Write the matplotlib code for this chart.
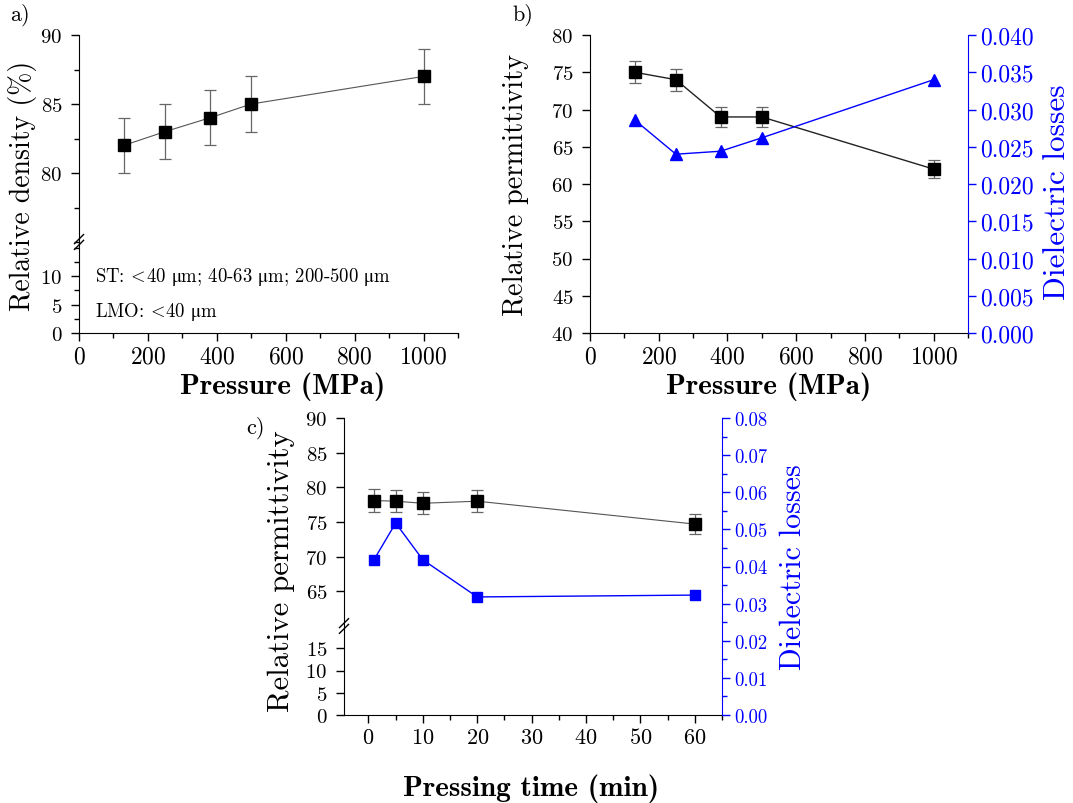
import matplotlib
matplotlib.use("Agg")
import matplotlib.pyplot as plt
from matplotlib.ticker import MultipleLocator, FormatStrFormatter

plt.rcParams['font.family'] = 'cmr10'
plt.rcParams['mathtext.fontset'] = 'cm'
plt.rcParams['axes.formatter.use_mathtext'] = True
plt.rcParams['xtick.direction'] = 'out'
plt.rcParams['ytick.direction'] = 'out'
plt.rcParams['xtick.labelsize'] = 17
plt.rcParams['ytick.labelsize'] = 15

BLUE = '#0000ff'
W, H = 1073, 804

# a) relative density vs pressure
press = [130, 250, 380, 500, 1000]
density = [82, 83, 84, 85, 87]
density_err = [2, 2, 2, 2, 2]

# b) permittivity / losses vs pressure
perm_b = [75, 74, 69, 69, 62]
perm_b_err = [1.5, 1.5, 1.4, 1.3, 1.2]
loss_b = [0.0286, 0.0240, 0.0244, 0.0262, 0.0340]

# c) permittivity / losses vs pressing time
ptime = [1, 5, 10, 20, 60]
perm_c = [78.1, 78.0, 77.7, 78.0, 74.7]
perm_c_err = [1.6, 1.6, 1.6, 1.6, 1.5]
loss_c = [0.0418, 0.0517, 0.0418, 0.0318, 0.0323]

xlab = dict(family='cmb10', fontsize=21, ha='center', va='center')
ylab = dict(family='cmr10', ha='center', va='center')
um = r'$\mathrm{μ}$m'


def rect(x0, x1, ytop, ybot):
    return [x0 / W, 1 - ybot / H, (x1 - x0) / W, (ybot - ytop) / H]


def ftext(x, y, s, rot=0, **kw):
    fig.text(x / W, 1 - y / H, s, rotation=rot, **kw)


def style(ax):
    ax.spines['top'].set_visible(False)
    ax.spines['right'].set_visible(False)
    ax.tick_params(which='major', length=6, width=1, pad=3)
    ax.tick_params(axis='y', which='major', pad=6)
    ax.tick_params(which='minor', length=3.5, width=1)


def brk(ax_lo):
    kw = dict(color='k', lw=1, clip_on=False)
    for dy in (-0.032, 0.032):
        ax_lo.plot([-0.012, 0.012], [1 + dy - 0.05, 1 + dy + 0.05],
                   transform=ax_lo.transAxes, **kw)


def errplot(ax, x, y, e, lw=0.8, lc='#333333'):
    ax.errorbar(x, y, yerr=e, fmt='none', ecolor='#666666', elinewidth=0.9,
                capsize=4, capthick=0.9, zorder=2)
    ax.plot(x, y, '-', color=lc, lw=lw, zorder=3)
    ax.plot(x, y, 's', color='k', ms=8, zorder=4)


fig = plt.figure(figsize=(W / 100, H / 100), dpi=100)

# ---- panel a ----
a_up = fig.add_axes(rect(79, 458, 36, 243))
a_lo = fig.add_axes(rect(79, 458, 243, 334))
for ax in (a_up, a_lo):
    style(ax)
    ax.set_xlim(0, 1100)
    errplot(ax, press, density, density_err, lw=0.8, lc='#555555')
a_up.set_ylim(75, 90)
a_up.spines['bottom'].set_visible(False)
a_up.tick_params(axis='x', which='both', bottom=False, labelbottom=False)
a_up.yaxis.set_minor_locator(MultipleLocator(2.5))
a_up.set_yticks([80, 85, 90])
a_lo.set_ylim(0, 16)
a_lo.set_yticks([0, 5, 10])
a_lo.yaxis.set_minor_locator(MultipleLocator(2.5))
a_lo.xaxis.set_major_locator(MultipleLocator(200))
a_lo.xaxis.set_minor_locator(MultipleLocator(100))
a_lo.text(46, 10, r'ST: $\!<\!$40 ' + um + '; 40-63 ' + um + '; 200-500 ' + um,
          fontsize=13.5, va='center')
a_lo.text(46, 3.9, r'LMO: $\!<\!$40 ' + um, fontsize=13.5, va='center')
brk(a_lo)
ftext(23, 186, 'Relative density (%)', rot=90, fontsize=20, **ylab)
ftext(283, 387, 'Pressure (MPa)', **xlab)
ftext(10, 15, 'a)', fontsize=16, va='center')

# ---- panel b ----
b = fig.add_axes(rect(590, 968, 36, 334))
style(b)
b.set_xlim(0, 1100)
b.set_ylim(40, 80)
b.yaxis.set_major_locator(MultipleLocator(5))
b.xaxis.set_major_locator(MultipleLocator(200))
b.xaxis.set_minor_locator(MultipleLocator(100))
errplot(b, press, perm_b, perm_b_err, lw=1.0, lc='#222222')
bt = b.twinx()
bt.set_ylim(0, 0.04)
bt.yaxis.set_major_locator(MultipleLocator(0.005))
bt.yaxis.set_major_formatter(FormatStrFormatter('%.3f'))
bt.plot(press, loss_b, '-^', color=BLUE, lw=1.0, ms=9)
for s in ('top', 'left', 'bottom'):
    bt.spines[s].set_visible(False)
bt.spines['right'].set_color(BLUE)
bt.tick_params(axis='y', colors=BLUE, length=6, width=1, labelsize=17, pad=3)
ftext(516, 185, 'Relative permittivity', rot=90, fontsize=20.5, **ylab)
ftext(769, 387, 'Pressure (MPa)', **xlab)
ftext(1057, 192, 'Dielectric losses', rot=90, color=BLUE, fontsize=22.5, **ylab)
ftext(512, 15, 'b)', fontsize=16, va='center')

# ---- panel c ----
c_up = fig.add_axes(rect(344, 722, 419, 627))
c_lo = fig.add_axes(rect(344, 722, 627, 716))
for ax in (c_up, c_lo):
    style(ax)
    ax.set_xlim(-4.5, 65)
    ax.tick_params(axis='x', labelsize=16)
    errplot(ax, ptime, perm_c, perm_c_err, lw=0.8, lc='#555555')
c_up.set_ylim(60, 90)
c_up.set_yticks([65, 70, 75, 80, 85, 90])
c_up.spines['bottom'].set_visible(False)
c_up.tick_params(axis='x', which='both', bottom=False, labelbottom=False)
c_lo.set_ylim(0, 20)
c_lo.set_yticks([0, 5, 10, 15])
c_lo.xaxis.set_major_locator(MultipleLocator(10))
c_lo.xaxis.set_minor_locator(MultipleLocator(5))
brk(c_lo)
ct = fig.add_axes(rect(344, 722, 419, 716))
ct.patch.set_alpha(0)
ct.set_xlim(-4.5, 65)
ct.set_ylim(0, 0.08)
ct.yaxis.tick_right()
ct.tick_params(axis='x', bottom=False, labelbottom=False)
for s in ('top', 'left', 'bottom'):
    ct.spines[s].set_visible(False)
ct.spines['right'].set_color(BLUE)
ct.yaxis.set_major_locator(MultipleLocator(0.01))
ct.yaxis.set_minor_locator(MultipleLocator(0.005))
ct.yaxis.set_major_formatter(FormatStrFormatter('%.2f'))
ct.tick_params(axis='y', which='major', colors=BLUE, length=6, width=1, labelsize=13.5, pad=3)
ct.tick_params(axis='y', which='minor', colors=BLUE, length=3.5, width=1)
ct.plot(ptime, loss_c, '-s', color=BLUE, lw=1.0, ms=7.5)
ftext(281, 571, 'Relative permittivity', rot=90, fontsize=22, **ylab)
ftext(793, 567, 'Dielectric losses', rot=90, color=BLUE, fontsize=21.5, **ylab)
ftext(531, 789, 'Pressing time (min)', **xlab)
ftext(246, 428, 'c)', fontsize=16, va='center')

fig.savefig('out.png', dpi=100)
